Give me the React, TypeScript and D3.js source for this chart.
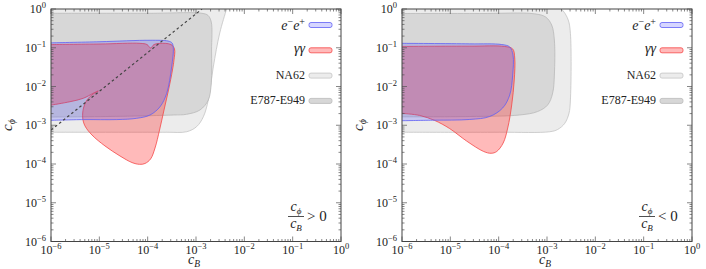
import * as d3 from "d3";

type Pt = [number, number];

// axis decades and their tick-label exponents
const decades = [1e-6, 1e-5, 1e-4, 1e-3, 1e-2, 1e-1, 1];
const decadeExponents = ["−6", "−5", "−4", "−3", "−2", "−1", "0"];

// ---- left panel: c_phi / c_B > 0 ----
const na62Pos: Pt[] = [
  [1e-6, 6.6e-4], [1e-5, 6.6e-4], [1e-4, 6.6e-4], [2.5e-4, 6.6e-4],
  [6.4e-4, 6.8e-4], [1.03e-3, 9.2e-4], [1.42e-3, 1.66e-3], [1.8e-3, 4.5e-3],
  [2.28e-3, 3.2e-2], [3.1e-3, 0.24], [4.3e-3, 1], [4.6e-3, 1.3],
];
const e787Pos: Pt[] = [
  [1e-6, 1.63e-3], [2.7e-5, 1.7e-3], [3.4e-4, 1.84e-3], [6.4e-4, 1.92e-3],
  [1.21e-3, 2.48e-3], [1.8e-3, 4.5e-3], [2.07e-3, 1.23e-2], [2.1e-3, 8.75e-2],
  [2.07e-3, 0.46], [1.78e-3, 0.68], [1.33e-3, 0.774], [1.1e-4, 0.774], [1e-6, 0.774],
];
const eePos: Pt[] = [
  [1e-6, 1.34e-3], [4.7e-6, 1.4e-3], [2.3e-5, 1.4e-3], [5.9e-5, 1.51e-3],
  [1.12e-4, 1.84e-3], [1.8e-4, 3.0e-3], [2.48e-4, 6.7e-3], [3.14e-4, 3.24e-2],
  [3.4e-4, 9.7e-2], [3.19e-4, 0.133], [2.64e-4, 0.149], [1.12e-4, 0.156],
  [1.03e-5, 0.143], [1e-6, 0.134],
];
const ggPosMain: Pt[] = [
  [1e-6, 0.121], [1.03e-5, 0.125], [6.9e-5, 0.13], [9.7e-5, 0.121],
  [1.15e-4, 0.0986], [1.35e-4, 0.121], [1.8e-4, 0.13], [3.04e-4, 0.121],
  [3.59e-4, 0.093], [3.5e-4, 0.048], [3.26e-4, 2.67e-2], [2.7e-4, 8.1e-3],
  [2.18e-4, 2.48e-3], [1.76e-4, 7.5e-4], [1.42e-4, 2.59e-4], [1.15e-4, 1.35e-4],
  [8.8e-5, 1.03e-4], [6.8e-5, 9.8e-5], [4.74e-5, 1.09e-4], [2.68e-5, 1.61e-4],
  [1.31e-5, 2.92e-4], [7.05e-6, 5.6e-4], [5.05e-6, 9.6e-4], [4.53e-6, 1.54e-3],
  [4.7e-6, 2.79e-3], [5.55e-6, 4.5e-3], [7.4e-6, 6.4e-3], [9.5e-6, 7.65e-3],
];
const ggPosTail: Pt[] = [
  [9.5e-6, 7.65e-3], [7.5e-6, 6.7e-3], [4.66e-6, 4.96e-3], [2.47e-6, 4.05e-3], [1e-6, 3.3e-3],
];
const ratioLinePos: Pt[] = [[1e-6, 7.5e-4], [1.33e-3, 1]];

// ---- right panel: c_phi / c_B < 0 ----
const na62Neg: Pt[] = [
  [1e-6, 6.6e-4], [1.05e-4, 6.6e-4], [1.14e-3, 6.8e-4], [1.67e-3, 7.8e-4],
  [2.33e-3, 1.12e-3], [2.85e-3, 2.03e-3], [3.05e-3, 4.5e-3], [3.05e-3, 0.236],
  [2.75e-3, 0.52], [2.16e-3, 0.89], [1.67e-3, 1.13], [7.1e-4, 1.2],
];
const e787Neg: Pt[] = [
  [1e-6, 1.65e-3], [2.52e-5, 1.68e-3], [2.72e-4, 1.84e-3], [6.4e-4, 2.26e-3],
  [1.03e-3, 3.33e-3], [1.31e-3, 6.8e-3], [1.42e-3, 1.98e-2], [1.42e-3, 0.158],
  [1.25e-3, 0.386], [9.4e-4, 0.62], [5.57e-4, 0.75], [4.05e-5, 0.765], [1e-6, 0.765],
];
const eeNeg: Pt[] = [
  [1e-6, 1.31e-3], [4.3e-6, 1.35e-3], [2.52e-5, 1.41e-3], [6.5e-5, 1.68e-3],
  [1.21e-4, 2.79e-3], [1.69e-4, 6.0e-3], [1.95e-4, 1.98e-2], [1.98e-4, 6.5e-2],
  [1.69e-4, 0.105], [1.16e-4, 0.121], [2.5e-5, 0.126], [1e-6, 0.13],
];
const ggNeg: Pt[] = [
  [1e-6, 0.108], [2.52e-5, 0.11], [1.33e-4, 0.108], [1.95e-4, 0.093],
  [2.15e-4, 0.0544], [2.1e-4, 1.47e-2], [1.86e-4, 3.33e-3], [1.54e-4, 8.5e-4],
  [1.24e-4, 3.48e-4], [9.1e-5, 2.1e-4], [7.0e-5, 1.89e-4], [4.9e-5, 2.1e-4],
  [2.18e-5, 3.9e-4], [9.7e-6, 8.2e-4], [4.75e-6, 1.33e-3], [2.32e-6, 1.79e-3],
  [1e-6, 2.03e-3],
];

const W = 706;
const H = 269;
const PANEL_W = 290;
const TOP = 9;
const BOTTOM = 241.5;
const OUT_X = 1e-7;
const FONT = "'Liberation Serif', 'DejaVu Serif', serif";

const styles = {
  na62: { fill: "#ececec", stroke: "#c4c4c4" },
  e787: { fill: "#d7d7d7", stroke: "#b9b9b9" },
  gg: { fill: "rgba(255,40,40,0.32)", stroke: "rgb(245,70,70)" },
  ee: { fill: "rgba(70,70,255,0.22)", stroke: "rgb(95,95,245)" },
};

function regionPath(
  segments: Pt[][],
  x: d3.ScaleLogarithmic<number, number>,
  y: d3.ScaleLogarithmic<number, number>
) {
  const line = d3
    .line<Pt>()
    .x((d) => x(d[0]))
    .y((d) => y(d[1]))
    .curve(d3.curveCatmullRom.alpha(0.5));
  let d = segments
    .map((s, i) => {
      const p = line(s)!;
      return i === 0 ? p : p.replace(/^M/, "L");
    })
    .join("");
  const first = segments[0][0];
  const lastSeg = segments[segments.length - 1];
  const last = lastSeg[lastSeg.length - 1];
  // close the region outside the plot, beyond the left edge
  d += `L${x(OUT_X)},${y(last[1])}L${x(OUT_X)},${y(first[1])}Z`;
  return d;
}

function Sub({ children, size = 10 }: { children: string; size?: number }) {
  return (
    <tspan fontSize={size} dy={3}>
      {children}
    </tspan>
  );
}

interface PanelProps {
  id: string;
  left: number;
  na62: Pt[];
  e787: Pt[];
  ee: Pt[];
  gg: Pt[][];
  ratioLine?: Pt[];
  sign: string;
}

function Panel({ id, left, na62, e787, ee, gg, ratioLine, sign }: PanelProps) {
  const right = left + PANEL_W;
  const x = d3.scaleLog().domain([1e-6, 1]).range([left, right]);
  const y = d3.scaleLog().domain([1e-6, 1]).range([BOTTOM, TOP]);
  const ticks = x.ticks();
  const isMajor = (v: number) =>
    Math.abs(Math.log10(v) - Math.round(Math.log10(v))) < 1e-6;
  const tickLen = (v: number) => (isMajor(v) ? 5 : 2.5);
  const tickColor = "#555";

  const line = d3
    .line<Pt>()
    .x((d) => x(d[0]))
    .y((d) => y(d[1]));

  const legendY = (i: number) => 25 + i * 25.3;
  const legendOrder = [styles.ee, styles.gg, styles.na62, styles.e787];

  const fracX = right - 45;

  return (
    <g style={{ fontFamily: FONT }}>
      <defs>
        <clipPath id={id}>
          <rect x={left} y={TOP} width={PANEL_W} height={BOTTOM - TOP} />
        </clipPath>
      </defs>
      <g clipPath={`url(#${id})`}>
        <path d={regionPath([na62], x, y)} fill={styles.na62.fill} stroke={styles.na62.stroke} strokeWidth={0.8} />
        <path d={regionPath([e787], x, y)} fill={styles.e787.fill} stroke={styles.e787.stroke} strokeWidth={0.8} />
        <path d={regionPath(gg, x, y)} fill={styles.gg.fill} stroke={styles.gg.stroke} strokeWidth={0.8} />
        <path d={regionPath([ee], x, y)} fill={styles.ee.fill} stroke={styles.ee.stroke} strokeWidth={0.8} />
        {ratioLine && (
          <path d={line(ratioLine)!} fill="none" stroke="#444" strokeWidth={1.2} strokeDasharray="2.6,2.6" />
        )}
      </g>

      {/* ticks on all four sides, pointing inward */}
      {ticks.map((v, i) => (
        <g key={`t${i}`} stroke={tickColor} strokeWidth={0.7}>
          <line x1={x(v)} x2={x(v)} y1={BOTTOM} y2={BOTTOM - tickLen(v)} />
          <line x1={x(v)} x2={x(v)} y1={TOP} y2={TOP + tickLen(v)} />
          <line x1={left} x2={left + tickLen(v)} y1={y(v)} y2={y(v)} />
          <line x1={right} x2={right - tickLen(v)} y1={y(v)} y2={y(v)} />
        </g>
      ))}
      <rect x={left} y={TOP} width={PANEL_W} height={BOTTOM - TOP} fill="none" stroke="#444" strokeWidth={1} />

      {/* tick labels */}
      {decades.map((v, i) => (
        <g key={`l${i}`} fontSize={12} fill="#222">
          <text x={x(v)} y={BOTTOM + 12.5} textAnchor="middle">
            10<tspan dy={-5} fontSize={8.5}>{decadeExponents[i]}</tspan>
          </text>
          <text x={left - 5} y={y(v) + 4} textAnchor="end">
            10<tspan dy={-5} fontSize={8.5}>{decadeExponents[i]}</tspan>
          </text>
        </g>
      ))}

      {/* axis titles */}
      <text x={(left + right) / 2 - 2} y={264} textAnchor="middle" fontSize={14} fontStyle="italic" fill="#222">
        c<Sub size={9.5}>B</Sub>
      </text>
      <text transform={`translate(${left - 39},125) rotate(-90)`} textAnchor="middle" fontSize={15} fontStyle="italic" fill="#222">
        c<Sub>ϕ</Sub>
      </text>

      {/* legend */}
      {legendOrder.map((s, i) => (
        <rect key={`sw${i}`} x={right - 32} y={legendY(i) - 2.5} width={23} height={5} rx={2} fill={s.fill} stroke={s.stroke} strokeWidth={0.8} />
      ))}
      <text x={right - 36} y={legendY(0) + 4.5} textAnchor="end" fontSize={14} fontStyle="italic" fill="#222">
        e<tspan dy={-5} fontSize={10} fontStyle="normal">−</tspan>
        <tspan dy={5}>e</tspan>
        <tspan dy={-5} fontSize={10} fontStyle="normal">+</tspan>
      </text>
      <text x={right - 36} y={legendY(1) + 3} textAnchor="end" fontSize={14} fontStyle="italic" fill="#222">
        γγ
      </text>
      <text x={right - 36} y={legendY(2) + 3.5} textAnchor="end" fontSize={12} fill="#222">
        NA62
      </text>
      <text x={right - 36} y={legendY(3) + 3.5} textAnchor="end" fontSize={12} fill="#222">
        E787-E949
      </text>

      {/* sign annotation */}
      <text x={fracX} y={211} textAnchor="middle" fontSize={14} fontStyle="italic" fill="#222">
        c<Sub size={9}>ϕ</Sub>
      </text>
      <line x1={fracX - 8} x2={fracX + 8} y1={216.5} y2={216.5} stroke="#222" strokeWidth={0.8} />
      <text x={fracX} y={228} textAnchor="middle" fontSize={14} fontStyle="italic" fill="#222">
        c<Sub size={9}>B</Sub>
      </text>
      <text x={right - 34} y={220.5} fontSize={15} fill="#222">
        {sign} 0
      </text>
    </g>
  );
}

export default function App() {
  return (
    <svg
      width={W}
      height={H}
      viewBox={`0 0 ${W} ${H}`}
      style={{ position: "absolute", left: 0, top: 0, background: "#fff", fontFamily: FONT }}
    >
      <Panel id="clip-pos" left={51} na62={na62Pos} e787={e787Pos} ee={eePos} gg={[ggPosMain, ggPosTail]} ratioLine={ratioLinePos} sign=">" />
      <Panel id="clip-neg" left={402} na62={na62Neg} e787={e787Neg} ee={eeNeg} gg={[ggNeg]} sign="<" />
    </svg>
  );
}
